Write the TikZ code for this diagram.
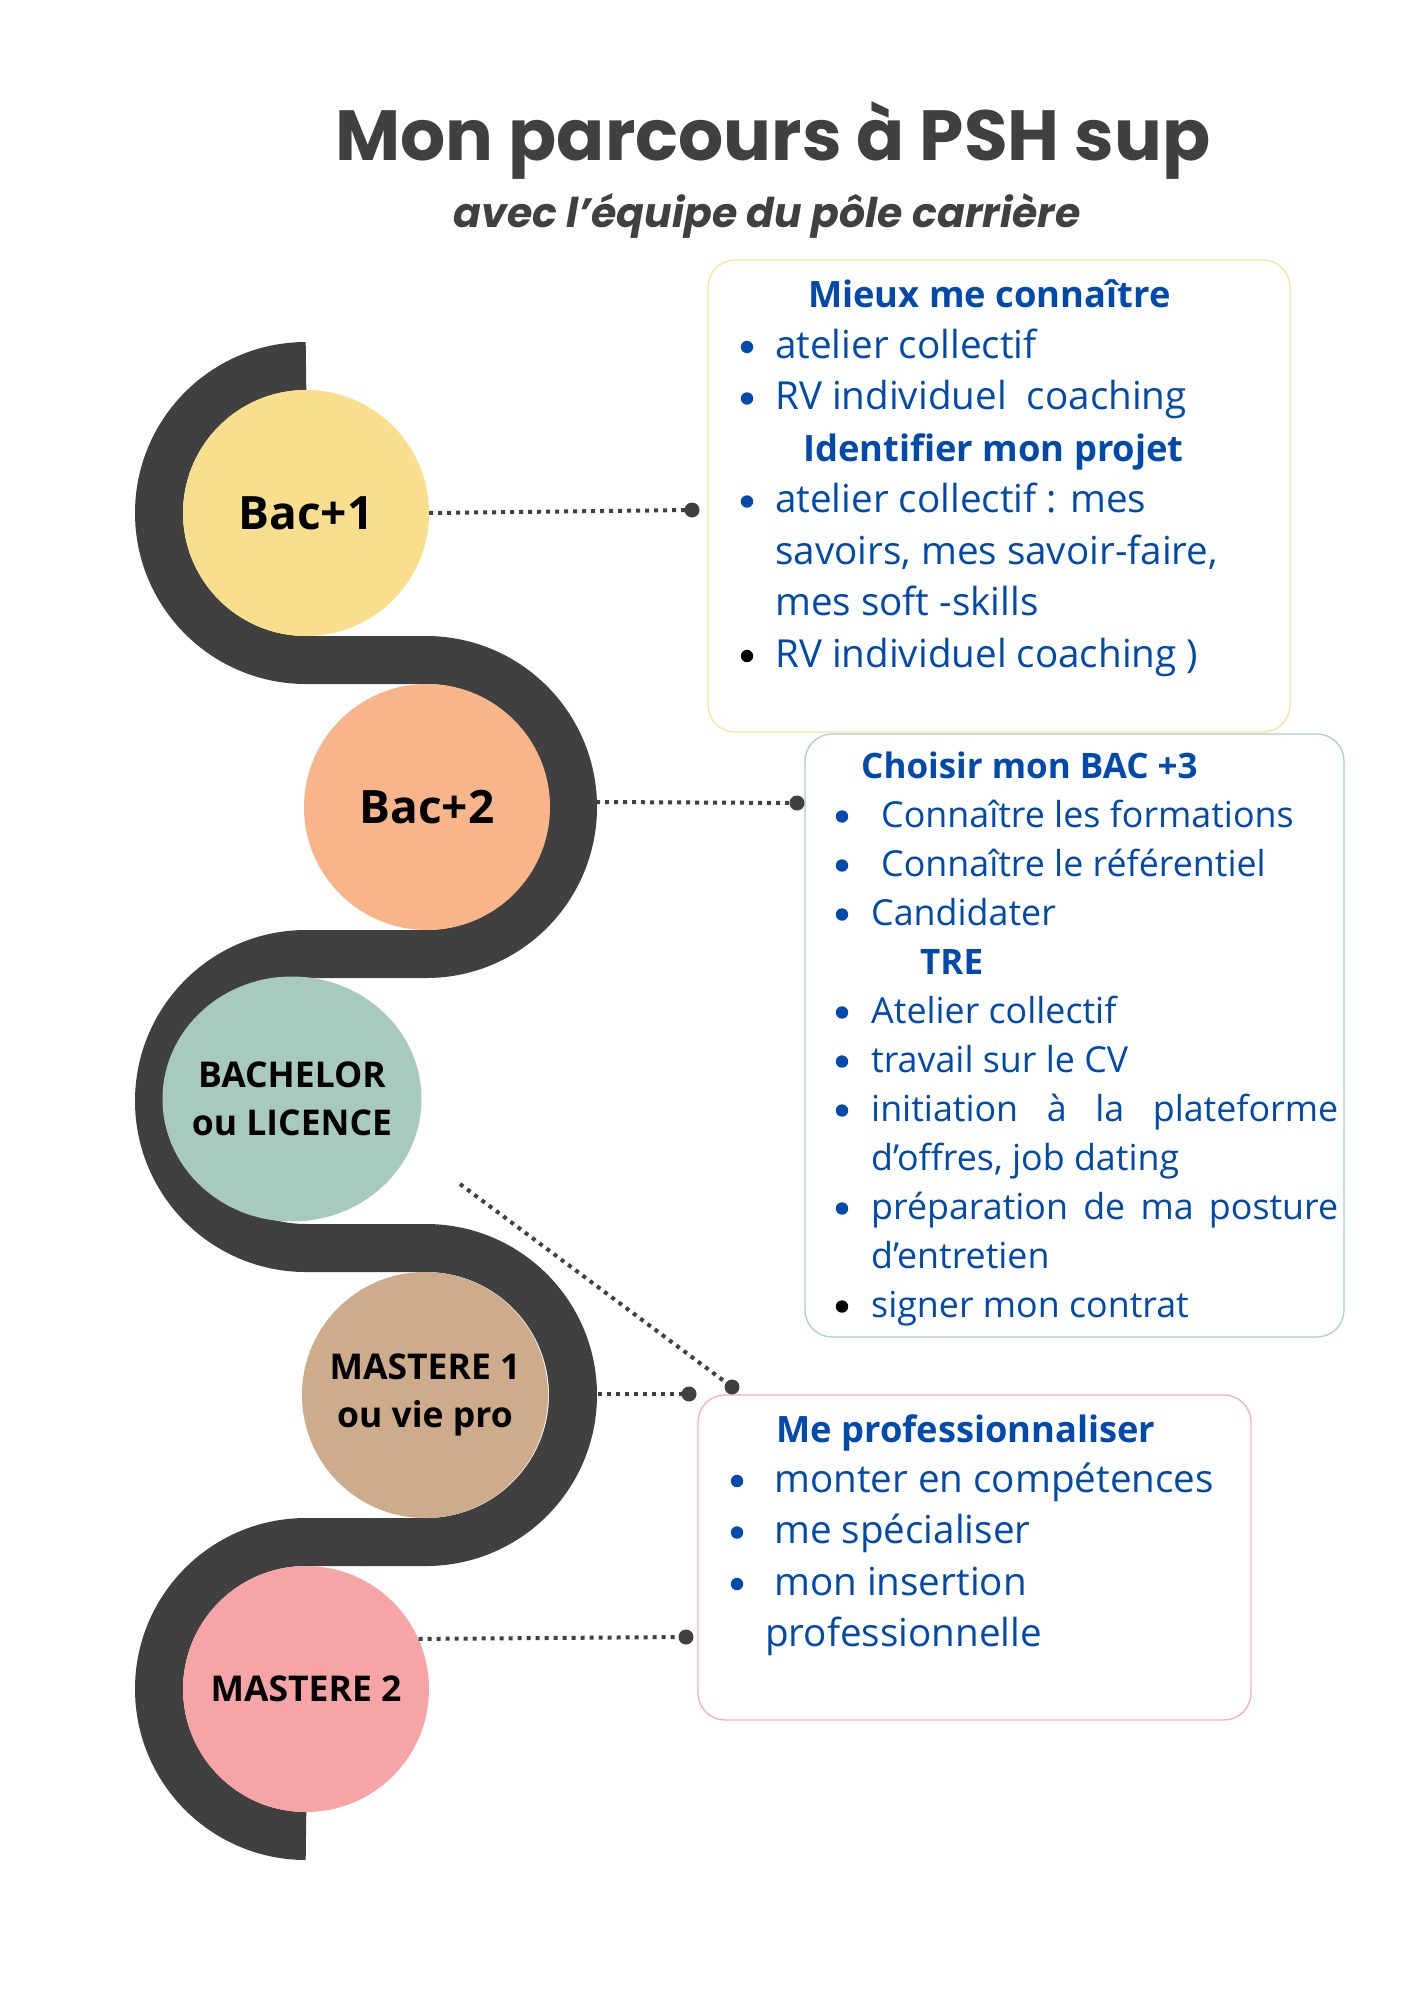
\documentclass[tikz,border=0pt]{standalone}
\usepackage{fontspec}
\setmainfont{Open Sans}
\newfontfamily\titlefont{Poppins}
\usetikzlibrary{shapes.geometric}
\definecolor{band}{HTML}{404040}
\definecolor{ink}{HTML}{004AAD}
\definecolor{cbaca}{HTML}{F8DE8D}
\definecolor{cbacb}{HTML}{F9B58A}
\definecolor{cbach}{HTML}{A8CABD}
\definecolor{cmsa}{HTML}{CEAC8B}
\definecolor{cmsb}{HTML}{F6A4A5}
\definecolor{bordera}{HTML}{F8E2A0}
\definecolor{borderb}{HTML}{A9D2C3}
\definecolor{borderc}{HTML}{F6B0B1}
\tikzset{
  stage/.style={circle, inner sep=0pt, minimum size=246pt, text=black, align=center},
  infobox/.style={rectangle, rounded corners=27pt, line width=1.3pt, fill=white, inner sep=0pt},
  bodytxt/.style={anchor=base west, inner sep=0pt, text=ink, font=\fontsize{38.6}{46}\selectfont},
  bodytxtb/.style={anchor=base west, inner sep=0pt, text=ink, font=\fontsize{35.8}{44}\selectfont},
  headtxt/.style={anchor=base west, inner sep=0pt, text=ink, font=\fontsize{36.3}{46}\selectfont\bfseries},
  headtxtb/.style={anchor=base west, inner sep=0pt, text=ink, font=\fontsize{35}{44}\selectfont\bfseries},
  dotline/.style={draw=band, line width=4pt, dash pattern=on 4pt off 5pt},
  enddot/.style={circle, fill=band, inner sep=0pt, minimum size=15pt},
  bul/.style={fill=ink},
}
\begin{document}
\begin{tikzpicture}[x=1pt,y=1pt]
\useasboundingbox (0,0) rectangle (1414,-2000);
\fill[white] (0,0) rectangle (1414,-2000);

% title
\node[anchor=base, inner sep=0pt, text=band, font=\titlefont\fontsize{71}{80}\selectfont\bfseries] (title) at (773,-160) {Mon parcours à PSH sup};
\node[anchor=base, inner sep=0pt, text=band, font=\titlefont\fontsize{41}{46}\selectfont\bfseries\itshape] (subtitle) at (767,-227) {avec l’équipe du pôle carrière};

% serpentine band
\draw[band, line width=48pt, line cap=butt]
  (306,-366) arc[start angle=90, end angle=270, radius=147]
  -- (426,-660) arc[start angle=90, end angle=-90, radius=147]
  -- (306,-954) arc[start angle=90, end angle=270, radius=147]
  -- (426,-1248) arc[start angle=90, end angle=-90, radius=147]
  -- (306,-1542) arc[start angle=90, end angle=270, radius=147];

% stages
\node[stage, fill=cbaca, font=\fontsize{46}{50}\selectfont\bfseries] (bac1) at (306,-513) {Bac+1};
\node[stage, fill=cbacb, font=\fontsize{46}{50}\selectfont\bfseries] (bac2) at (427,-807) {Bac+2};
\node[ellipse, inner sep=0pt, minimum width=259pt, minimum height=245pt, fill=cbach] (bach) at (292,-1099) {};
\node[inner sep=0pt, text=black, align=center, font=\fontsize{35.5}{47.5}\selectfont\bfseries] (bachtxt) at (bach.center) {BACHELOR\\ou LICENCE};
\node[stage, fill=cmsa, font=\fontsize{35.5}{48}\selectfont\bfseries] (ms1) at (425,-1395) {MASTERE 1\\ou vie pro};
\node[stage, fill=cmsb, font=\fontsize{35.5}{48}\selectfont\bfseries] (ms2) at (306,-1689) {MASTERE 2};

% boxes
\node[infobox, draw=bordera, minimum width=582pt, minimum height=472pt] (box1) at (999,-496) {};
\node[infobox, draw=borderb, minimum width=539pt, minimum height=603pt] (box2) at (1074.5,-1035.5) {};
\node[infobox, draw=borderc, minimum width=553pt, minimum height=325pt] (box3) at (974.5,-1557.5) {};

% box 1 text
\node[headtxt] (h11) at (808,-307) {Mieux me connaître};
\node[bodytxt] (l11) at (775,-358) {atelier collectif};
\node[bodytxt] (l12) at (775,-409.5) {RV individuel\ \ coaching};
\node[headtxt] (h12) at (803,-461) {Identifier mon projet};
\node[bodytxt] (l13) at (775,-512.5) {atelier collectif : mes};
\node[bodytxt] (l14) at (775,-564) {savoirs, mes savoir-faire,};
\node[bodytxt] (l15) at (775,-615.5) {mes soft -skills};
\node[bodytxt] (l16) at (775,-667) {RV individuel coaching )};
\fill[bul] (747,-347) circle (6.2);
\fill[bul] (747,-398.5) circle (6.2);
\fill[bul] (747,-501.5) circle (6.2);
\fill[black] (747,-656) circle (6.2);

% box 2 text
\node[headtxtb] (h21) at (861,-778.5) {Choisir mon BAC +3};
\node[bodytxtb] (l21) at (881,-827.5) {Connaître les formations};
\node[bodytxtb] (l22) at (881,-876.5) {Connaître le référentiel};
\node[bodytxtb] (l23) at (871,-925.5) {Candidater};
\node[headtxtb] (h22) at (920,-974.5) {TRE};
\node[bodytxtb] (l24) at (871,-1023.5) {Atelier collectif};
\node[bodytxtb] (l25) at (871,-1072.5) {travail sur le CV};
\node[bodytxtb] (l26) at (871,-1121.5) {\hbox to 467pt{initiation\hfill à\hfill la\hfill plateforme}};
\node[bodytxtb] (l27) at (871,-1170.5) {d’offres, job dating};
\node[bodytxtb] (l28) at (871,-1219.5) {\hbox to 467pt{préparation\hfill de\hfill ma\hfill posture}};
\node[bodytxtb] (l29) at (871,-1268.5) {d’entretien};
\node[bodytxtb] (l2a) at (871,-1317.5) {signer mon contrat};
\fill[bul] (842,-816.5) circle (6.2);
\fill[bul] (842,-865.5) circle (6.2);
\fill[bul] (842,-914.5) circle (6.2);
\fill[bul] (842,-1012.5) circle (6.2);
\fill[bul] (842,-1061.5) circle (6.2);
\fill[bul] (842,-1110.5) circle (6.2);
\fill[bul] (842,-1208.5) circle (6.2);
\fill[black] (842,-1306.5) circle (6.2);

% box 3 text
\node[headtxt] (h31) at (776,-1442) {Me professionnaliser};
\node[bodytxt] (l31) at (774,-1492) {monter en compétences};
\node[bodytxt] (l32) at (774,-1543.5) {me spécialiser};
\node[bodytxt] (l33) at (774,-1595) {mon insertion};
\node[bodytxt] (l34) at (765,-1646.5) {professionnelle};
\fill[bul] (737,-1481) circle (6.2);
\fill[bul] (737,-1532.5) circle (6.2);
\fill[bul] (737,-1584) circle (6.2);

% connector end dots
\node[enddot] (d1) at (692,-510) {};
\node[enddot] (d2) at (797,-803) {};
\node[enddot] (d3) at (732,-1387) {};
\node[enddot] (d4) at (689,-1394) {};
\node[enddot] (d5) at (686,-1637) {};
\coordinate (e2) at (596,-802);
\coordinate (e3) at (460,-1184);
\coordinate (e4) at (598,-1394);

% connectors
\draw[dotline] (bac1.east) -- (d1.center);
\draw[dotline] (e2) -- (d2.center);
\draw[dotline] (e3) -- (d3.center);
\draw[dotline] (e4) -- (d4.center);
\draw[dotline] (ms2.24) -- (d5.center);
\end{tikzpicture}
\end{document}
